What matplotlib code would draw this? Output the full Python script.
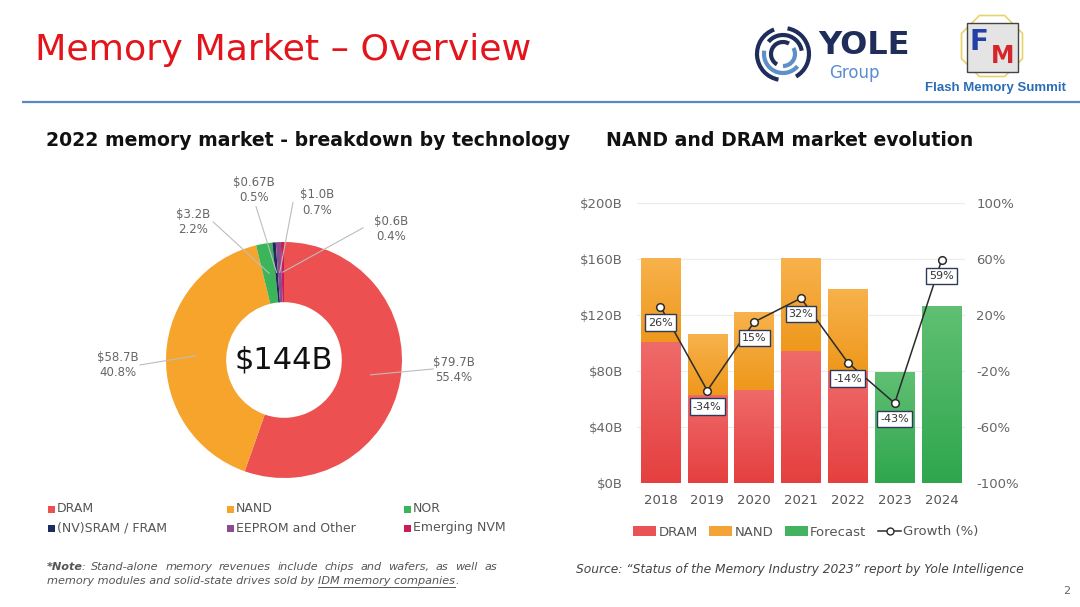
import matplotlib
matplotlib.use("Agg")
import matplotlib.pyplot as plt
import numpy as np
from matplotlib.patches import Rectangle, Arc, RegularPolygon, Patch
from matplotlib.lines import Line2D
from matplotlib.colors import LinearSegmentedColormap

plt.rcParams['font.family'] = ['DejaVu Sans']

# ---- pie data (2022 breakdown) ----
tech_names = ['DRAM', 'NAND', 'NOR', '(NV)SRAM / FRAM', 'EEPROM and Other', 'Emerging NVM']
tech_values = [79.7, 58.7, 3.2, 0.67, 1.0, 0.6]
tech_value_labels = ['$79.7B', '$58.7B', '$3.2B', '$0.67B', '$1.0B', '$0.6B']
tech_pct_labels = ['55.4%', '40.8%', '2.2%', '0.5%', '0.7%', '0.4%']
tech_colors = ['#ec5050', '#f6a42c', '#3cb55a', '#1e2b5e', '#8e4b8e', '#c81d5a']
total_label = '$144B'

# ---- bar data (market evolution) ----
years = ['2018', '2019', '2020', '2021', '2022', '2023', '2024']
dram = [100.5, 63, 66.5, 94, 79.7, 0, 0]
nand = [60.2, 43.5, 55.5, 67, 58.7, 0, 0]
forecast = [0, 0, 0, 0, 0, 79.5, 126.5]
growth = [26, -34, 15, 32, -14, -43, 59]
left_ticks = [0, 40, 80, 120, 160, 200]
right_ticks = [-100, -60, -20, 20, 60, 100]

W, H = 1080, 607
fig = plt.figure(figsize=(W / 100, H / 100), dpi=100)

# background axes in pixel coordinates for the slide decorations
bg = fig.add_axes([0, 0, 1, 1])
bg.set_xlim(0, W)
bg.set_ylim(H, 0)
bg.axis('off')

bg.text(35, 50, 'Memory Market \u2013 Overview', fontsize=26.2, color='#e3141b', va='center')
bg.plot([22, W], [101.5, 101.5], color='#5b86c5', lw=1.6, solid_capstyle='butt')
bg.text(46, 140, '2022 memory market - breakdown by technology', fontsize=13.6,
        weight='bold', color='#111111', va='center')
bg.text(606, 140, 'NAND and DRAM market evolution', fontsize=13.6,
        weight='bold', color='#111111', va='center')

# YOLE logo
for r, t1, t2, c in [(26, 100, 250, '#1f2d5a'), (26, 280, 420, '#1f2d5a'),
                     (19, 40, 190, '#5d8fc9'), (19, 220, 350, '#1f2d5a'),
                     (12, 120, 300, '#1f2d5a'), (12, 330, 450, '#5d8fc9')]:
    bg.add_patch(Arc((783, 54), 2 * r, 2 * r, theta1=t1, theta2=t2, color=c, lw=3))
bg.text(818, 46, 'YOLE', fontsize=23, weight='bold', color='#1f2d5a', va='center')
bg.text(829, 73, 'Group', fontsize=12, color='#5b8ecf', va='center')

# FMS logo
bg.add_patch(RegularPolygon((992, 46), 8, radius=33, orientation=np.pi / 8,
                            fill=False, ec='#e6d36a', lw=1.2))
bg.add_patch(Rectangle((967, 23), 51, 49, fc='#e4e4e4', ec='#444444', lw=1))
bg.text(979, 42, 'F', fontsize=20, weight='bold', color='#2340a8', va='center', ha='center')
bg.text(1003, 56, 'M', fontsize=17, weight='bold', color='#d6262b', va='center', ha='center')
bg.text(1066, 88, 'Flash Memory Summit', fontsize=9.5, weight='bold', color='#2b6cb8',
        va='center', ha='right', family=['Liberation Sans'])

# ---- donut ----
cx, cy, R = 284, 360, 118
L, Rr, T, B = 60, 520, 160, 490
axp = fig.add_axes([L / W, 1 - B / H, (Rr - L) / W, (B - T) / H])
wedges, _ = axp.pie(tech_values, colors=tech_colors, startangle=90, counterclock=False,
                    radius=1, wedgeprops=dict(width=0.51, linewidth=0))
axp.set_xlim((L - cx) / R, (Rr - cx) / R)
axp.set_ylim((cy - B) / R, (cy - T) / R)
axp.set_aspect('auto')
axp.axis('off')
axp.text(0, 0, total_label, fontsize=22, ha='center', va='center', color='#111111')

# label positions (data units) and line end next to the text
label_pos = [(1.44, -0.085), (-1.407, -0.042), (-0.771, 1.17), (-0.254, 1.44),
             (0.28, 1.335), (0.907, 1.11)]
line_end = [(1.263, -0.076), (-1.22, -0.042), (-0.60, 1.17), (-0.237, 1.30),
            (0.076, 1.335), (0.67, 1.12)]
for w, (tx, ty), (lx, ly), v, p in zip(wedges, label_pos, line_end,
                                       tech_value_labels, tech_pct_labels):
    ang = np.deg2rad((w.theta1 + w.theta2) / 2)
    mx, my = 0.745 * np.cos(ang), 0.745 * np.sin(ang)
    axp.plot([mx, lx], [my, ly], color='#bdbdbd', lw=0.8)
    axp.text(tx, ty, v + '\n' + p, fontsize=8.5, color='#666666', ha='center',
             va='center', linespacing=1.25)

# pie legend, 3 columns x 2 rows
col_x = [48, 227, 404]
row_y = [509, 528]
for i, (n, c) in enumerate(zip(tech_names, tech_colors)):
    x0 = col_x[i % 3]
    y0 = row_y[i // 3]
    bg.add_patch(Rectangle((x0, y0 - 3.5), 7, 7, fc=c, ec='none'))
    bg.text(x0 + 9, y0, n, fontsize=9, color='#555555', va='center')

# ---- bars ----
axb = fig.add_axes([637 / W, 1 - 483 / H, 328 / W, 280 / H])
x = np.arange(len(years))
bw = 0.84
b1 = axb.bar(x, dram, bw, color='none', edgecolor='none')
b2 = axb.bar(x, nand, bw, bottom=dram, color='none', edgecolor='none')
b3 = axb.bar(x, forecast, bw, color='none', edgecolor='none')

grad = np.linspace(0, 1, 256).reshape(-1, 1)
for cont, (c_bot, c_top) in [(b1, ('#e53f3f', '#f06a6a')),
                             (b2, ('#ee981c', '#f8b24c')),
                             (b3, ('#2fa64e', '#60c073'))]:
    cmap = LinearSegmentedColormap.from_list('g', [c_bot, c_top])
    for p in cont:
        if p.get_height() <= 0:
            continue
        x0, y0 = p.get_x(), p.get_y()
        im = axb.imshow(grad, extent=[x0, x0 + p.get_width(), y0, y0 + p.get_height()],
                        origin='lower', cmap=cmap, aspect='auto', zorder=2)
        im.set_clip_path(p)

axb.set_xlim(-0.5, len(years) - 0.5)
axb.set_ylim(0, 200)
axb.set_yticks(left_ticks)
axb.set_yticklabels(['$%dB' % t for t in left_ticks])
axb.set_xticks(x)
axb.set_xticklabels(years)
axb.grid(axis='y', color='#ececec', lw=0.8, zorder=0)
axb.set_axisbelow(True)
for s in axb.spines.values():
    s.set_visible(False)
axb.tick_params(axis='y', length=0, labelsize=9.5, labelcolor='#666666', pad=10)
axb.tick_params(axis='x', length=0, labelsize=9.5, labelcolor='#555555', pad=8)

ax2 = axb.twinx()
ax2.set_ylim(-100, 100)
ax2.set_yticks(right_ticks)
ax2.set_yticklabels(['%d%%' % t for t in right_ticks])
for s in ax2.spines.values():
    s.set_visible(False)
ax2.tick_params(axis='y', length=0, labelsize=9.5, labelcolor='#666666', pad=8)
ax2.plot(x, growth, color='#2b2b2b', lw=1.1, marker='o', ms=5.5, mfc='white',
         mec='#2b2b2b', mew=1.1, zorder=5)
for xi, g in zip(x, growth):
    ax2.annotate('%d%%' % g, (xi, g), xytext=(0, -11.5), textcoords='offset points',
                 ha='center', va='center', fontsize=8, color='#333333', zorder=6,
                 bbox=dict(boxstyle='square,pad=0.28', fc='white', ec='#2d3a5a', lw=1))

handles = [Patch(fc='#ea5353', label='DRAM'), Patch(fc='#f4a436', label='NAND'),
           Patch(fc='#44b360', label='Forecast'),
           Line2D([], [], color='#2b2b2b', lw=1.1, marker='o', ms=5, mfc='white',
                  mec='#2b2b2b', label='Growth (%)')]
fig.legend(handles=handles, loc='center', bbox_to_anchor=(806 / W, 1 - 532 / H), ncol=4,
           frameon=False, fontsize=9.5, labelcolor='#555555', handlelength=1.7,
           handletextpad=0.2, columnspacing=0.9, handleheight=0.8)

# ---- footnotes ----
fig.canvas.draw()
rend = fig.canvas.get_renderer()


def width_px(t):
    return t.get_window_extent(rend).width


note_kw = dict(fontsize=8.1, color='#555555', style='italic', va='center')
line1 = ['*Note', ':', 'Stand-alone', 'memory', 'revenues', 'include', 'chips', 'and',
         'wafers,', 'as', 'well', 'as']
xl, xr, y1 = 47, 497, 567
texts = []
for i, wd in enumerate(line1):
    t = bg.text(0, y1, wd, weight='bold' if i == 0 else 'normal', **note_kw)
    texts.append(t)
widths = [width_px(t) for t in texts]
gap = (xr - xl - sum(widths) + 2) / (len(line1) - 2)
cur = xl
for i, (t, wdt) in enumerate(zip(texts, widths)):
    t.set_x(cur)
    cur += (wdt - 2) if i == 0 else (wdt + gap)

t_a = bg.text(xl, 581, 'memory modules and solid-state drives sold by ', **note_kw)
wa = width_px(t_a)
t_b = bg.text(xl + wa, 581, 'IDM memory companies', **note_kw)
wb = width_px(t_b)
bg.plot([xl + wa, xl + wa + wb], [587, 587], color='#555555', lw=0.7)
bg.text(xl + wa + wb, 581, '.', **note_kw)

bg.text(576, 569, 'Source: \u201cStatus of the Memory Industry 2023\u201d report by Yole Intelligence',
        fontsize=8.8, color='#444444', style='italic', va='center')
bg.text(1063, 591, '2', fontsize=8, color='#666666', va='center')

fig.savefig('out.png', dpi=100)
